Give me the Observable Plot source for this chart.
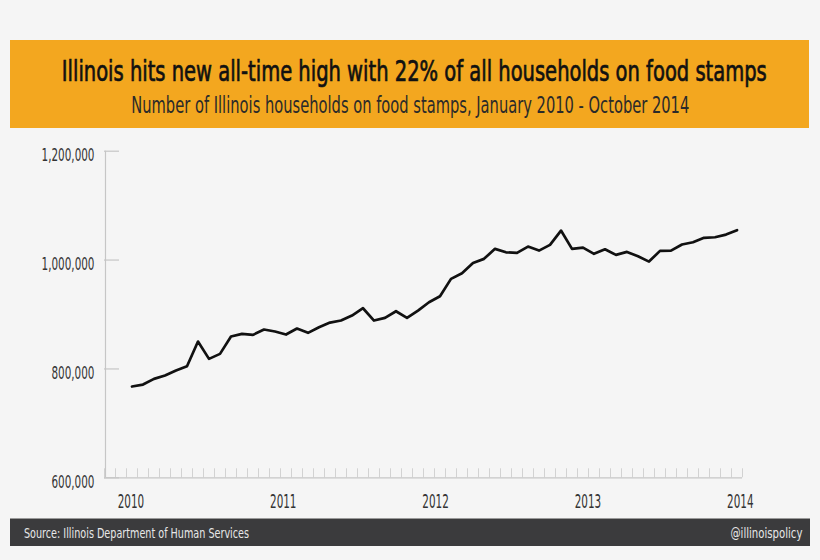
<!DOCTYPE html>
<html>
<head>
<meta charset="utf-8">
<script src="https://cdn.jsdelivr.net/npm/d3@7"></script>
<script src="https://cdn.jsdelivr.net/npm/@observablehq/plot@0.6"></script>
<style>
  html, body { margin: 0; padding: 0; background: #f5f5f5; width: 820px; height: 560px; overflow: hidden; }
  .box { position: absolute; }
  #banner { left: 10px; top: 40px; width: 799px; height: 88px; background: #f3a71f; }
  #footer { left: 10px; top: 518px; width: 800px; height: 28px; background: #3b3b3d; border-top: 1px solid #9a9a9a; box-sizing: border-box; }
  .fit { position: absolute; white-space: nowrap; display: inline-block; line-height: 1;
         font-family: "Liberation Sans Narrow", "DejaVu Sans Condensed", "Roboto", sans-serif; }
  #title { font-size: 29px; color: #111; font-weight: normal; -webkit-text-stroke: 0.7px #111; }
  #subtitle { font-size: 23px; color: #2a2a2a; }
  #source, #handle { font-size: 14px; color: #e8e8e8; }
  #chart { position: absolute; left: 0; top: 130px; }
</style>
</head>
<body>
<div id="banner" class="box"></div>
<div id="footer" class="box"></div>
<span id="title" class="fit">Illinois hits new all-time high with 22% of all households on food stamps</span>
<span id="subtitle" class="fit">Number of Illinois households on food stamps, January 2010 - October 2014</span>
<span id="source" class="fit">Source: Illinois Department of Human Services</span>
<span id="handle" class="fit">@illinoispolicy</span>
<div id="chart"></div>
<script>
// ---- data ----
// 58 monthly categories, January 2010 - October 2014
const months = d3.utcMonth.range(new Date(Date.UTC(2010, 0, 1)), new Date(Date.UTC(2014, 10, 1)))
  .map(d3.utcFormat("%b %Y"));
// households on food stamps, March 2010 - October 2014 (first two months have no value)
const firstMonth = 2;
const households = [
  767700, 771300, 781800, 787900, 797100, 805000, 850300, 818500, 827700, 859500,
  864500, 862600, 872400, 868700, 863200, 874200, 866300, 876600, 885200, 888900,
  898100, 911500, 888900, 893800, 906000, 893800, 907200, 922500, 933500, 965500,
  975700, 994800, 1002200, 1020600, 1014300, 1013200, 1024800, 1017400, 1027900, 1054200,
  1020600, 1022900, 1011400, 1019800, 1009500, 1015000, 1007000, 997200, 1016900, 1017400,
  1028500, 1032700, 1040800, 1041900, 1046800, 1055000
];
const yTicks = [600000, 800000, 1000000, 1200000];
const yearLabels = ["2010", "2011", "2012", "2013", "2014"];

const FONT = '"Liberation Sans Narrow", "DejaVu Sans Condensed", Roboto, sans-serif';
const AXIS = "#c6c6c6";

const series = households.map((v, i) => ({m: firstMonth + i + 0.5, v, label: months[firstMonth + i]}));
const yearSpan = [2.4, months.length - 0.2];
const yearPos = (d, i) => yearSpan[0] + i * (yearSpan[1] - yearSpan[0]) / (yearLabels.length - 1);

const chart = Plot.plot({
  width: 820,
  height: 390,
  marginLeft: 104,
  marginRight: 78,
  marginTop: 20.7,
  marginBottom: 42.7,
  style: {background: "transparent", fontFamily: FONT, color: "#333", overflow: "visible"},
  x: {type: "linear", domain: [0, months.length], axis: null},
  y: {domain: [600000, 1200000], axis: null},
  marks: [
    // minor month ticks on the x baseline
    Plot.ruleX(d3.range(months.length + 1), {y1: () => 600000, y2: () => 600000, insetTop: -9, stroke: "#d2d2d2", strokeWidth: 1}),
    // axis lines
    Plot.ruleY([600000], {x1: () => 0, x2: () => months.length, stroke: AXIS, strokeWidth: 1.2}),
    Plot.ruleX([0], {y1: () => 600000, y2: () => 1200000, stroke: AXIS, strokeWidth: 1.2, dx: 1}),
    // y tick stubs pointing inward
    Plot.ruleY(yTicks, {x1: () => 0, x2: () => 0, insetRight: -15, stroke: AXIS, strokeWidth: 1.2}),
    // y labels
    Plot.text(yTicks, {x: () => 0, y: d => d, text: d => d3.format(",")(d), textAnchor: "end",
      dx: -10, dy: 4.5, fontSize: 18, fill: "#333", fontFamily: FONT}),
    // year labels
    Plot.text(yearLabels, {x: yearPos, y: () => 600000, text: d => d, dy: 24.5,
      fontSize: 19, fill: "#333", fontFamily: FONT}),
    // the series
    Plot.line(series, {x: "m", y: "v", stroke: "#111", strokeWidth: 2.7, strokeLinejoin: "round"})
  ]
});
document.getElementById("chart").appendChild(chart);

// condense tick labels horizontally to match the narrow gothic face
function condense(nodes, refText, targetWidth) {
  const ref = nodes.find(n => n.textContent === refText);
  if (!ref) return;
  const w = ref.getComputedTextLength();
  if (!w) return;
  const k = targetWidth / w;
  nodes.forEach(n => {
    const x = parseFloat(n.getAttribute("x") || "0");
    n.removeAttribute("x");
    const t = n.getAttribute("transform") || "";
    n.setAttribute("transform", `${t} translate(${x},0) scale(${k},1)`);
  });
}
const texts = Array.from(chart.querySelectorAll("text"));
condense(texts.filter(n => n.textContent.includes(",")), "1,200,000", 53);
condense(texts.filter(n => yearLabels.includes(n.textContent)), "2010", 26.5);

// place HTML text by baseline, fitted to a measured width
function place(id, {x, anchor, baseline, width}) {
  const el = document.getElementById(id);
  const probe = document.createElement("span");
  probe.style.cssText = "display:inline-block;width:0;height:0;vertical-align:baseline;";
  el.appendChild(probe);
  const r = el.getBoundingClientRect();
  const off = probe.getBoundingClientRect().top - r.top;
  el.removeChild(probe);
  const w = r.width;
  const k = width / w;
  el.style.top = (baseline - off) + "px";
  if (anchor === "middle") { el.style.left = (x - w / 2) + "px"; el.style.transformOrigin = "50% 50%"; }
  else if (anchor === "end") { el.style.left = (x - w) + "px"; el.style.transformOrigin = "100% 50%"; }
  else { el.style.left = x + "px"; el.style.transformOrigin = "0 50%"; }
  el.style.transform = `scaleX(${k})`;
}
place("title", {x: 414.5, anchor: "middle", baseline: 80.5, width: 705});
place("subtitle", {x: 410, anchor: "middle", baseline: 112.5, width: 558});
place("source", {x: 23.5, anchor: "start", baseline: 538, width: 225});
place("handle", {x: 802, anchor: "end", baseline: 538, width: 72});
</script>
</body>
</html>
